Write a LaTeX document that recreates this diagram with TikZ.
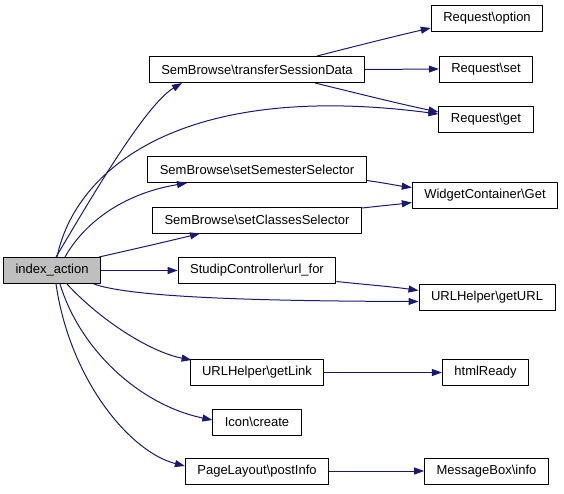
\documentclass[tikz,border=0pt]{standalone}
\usepackage{fontspec}
\setmainfont{Liberation Sans}
\usetikzlibrary{arrows.meta}
\definecolor{edgeblue}{RGB}{25,25,112}
\definecolor{focusgray}{RGB}{191,191,191}
\begin{document}
\begin{tikzpicture}[x=1pt, y=-1pt, font=\fontsize{13}{15}\selectfont, line join=round,
  fn/.style={draw=black, fill=white, line width=1pt, minimum height=26pt, inner xsep=12pt, inner ysep=0pt},
  call/.style={draw=edgeblue, line width=1pt, -{Triangle[length=10pt,width=7pt]}}]
\useasboundingbox (0,0) rectangle (564,493);
% functions
\node[fn, fill=focusgray] (ia) at (52,270.5) {index\_action};
\node[fn] (tsd) at (257,69.5) {SemBrowse\textbackslash transferSessionData};
\node[fn] (sss) at (257,169.5) {SemBrowse\textbackslash setSemesterSelector};
\node[fn] (scs) at (257,220) {SemBrowse\textbackslash setClassesSelector};
\node[fn] (urlfor) at (257,270.5) {StudipController\textbackslash url\_for};
\node[fn] (getlink) at (257,372.5) {URLHelper\textbackslash getLink};
\node[fn] (iconcreate) at (257,422) {Icon\textbackslash create};
\node[fn] (postinfo) at (257,471) {PageLayout\textbackslash postInfo};
\node[fn] (ropt) at (487,18) {Request\textbackslash option};
\node[fn] (rset) at (486,69) {Request\textbackslash set};
\node[fn] (rget) at (486,119) {Request\textbackslash get};
\node[fn] (wcg) at (485,195.5) {WidgetContainer\textbackslash Get};
\node[fn] (geturl) at (487,297.5) {URLHelper\textbackslash getURL};
\node[fn] (htmlready) at (485.5,372.5) {htmlReady};
\node[fn] (mbinfo) at (486.5,471) {MessageBox\textbackslash info};
% calls from index_action
\draw[call] ([xshift=4pt]ia.north) .. controls (90,200) and (145,105) .. ([xshift=-75pt]tsd.south);
\draw[call] ([xshift=5pt]ia.north) .. controls (75,170) and (180,80) .. ([yshift=5pt]rget.west);
\draw[call] ([xshift=13pt]ia.north) .. controls (80,230) and (115,195) .. ([xshift=-70pt]sss.south);
\draw[call] ([xshift=-2pt]ia.north east) .. controls (130,250) and (165,242) .. ([xshift=-57pt]scs.south);
\draw[call] (ia.east) -- (urlfor.west);
\draw[call] ([xshift=-7pt]ia.south east) .. controls (130,297) and (250,301) .. ([yshift=-4pt]geturl.west);
\draw[call] ([xshift=15pt]ia.south) .. controls (100,320) and (150,352) .. ([xshift=2pt,yshift=-1pt]getlink.north west);
\draw[call] ([xshift=8pt]ia.south) .. controls (80,350) and (140,405) .. ([yshift=2pt]iconcreate.west);
\draw[call] ([xshift=4pt]ia.south) .. controls (70,380) and (130,452) .. ([yshift=5pt]postinfo.west);
% second level calls
\draw[call] ([xshift=60pt]tsd.north) .. controls (360,45) and (400,35) .. ([yshift=-10pt]ropt.west);
\draw[call] (tsd.east) -- (rset.west);
\draw[call] ([xshift=58pt]tsd.south) .. controls (360,94) and (400,104) .. ([yshift=7pt]rget.west);
\draw[call] ([yshift=-11pt]sss.east) .. controls (385,183) and (400,186) .. ([yshift=8pt]wcg.west);
\draw[call] ([yshift=12pt]scs.east) .. controls (380,206) and (400,204) .. ([yshift=-7pt]wcg.west);
\draw[call] ([yshift=-11pt]urlfor.east) .. controls (360,284) and (395,287) .. ([yshift=7pt]geturl.west);
\draw[call] (getlink.east) -- (htmlready.west);
\draw[call] (postinfo.east) -- (mbinfo.west);
\end{tikzpicture}
\end{document}
